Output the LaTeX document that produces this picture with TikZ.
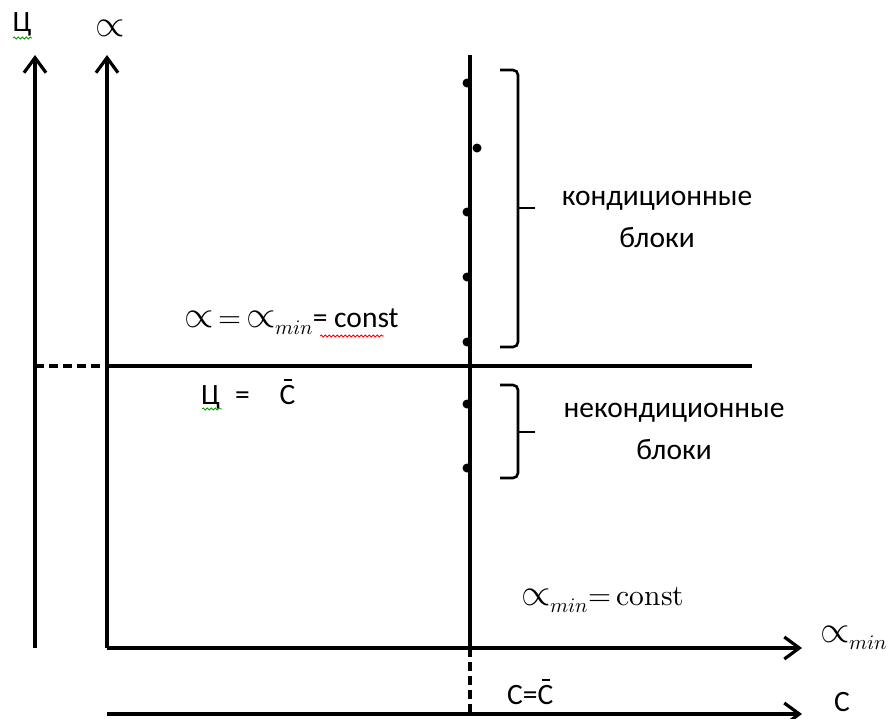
\documentclass[tikz,border=0pt]{standalone}
\usepackage{fontspec}
\usepackage{unicode-math}
\usepackage{graphicx}
\setmainfont{Carlito}
\setmathfont{Latin Modern Math}
\usetikzlibrary{arrows.meta,decorations.pathmorphing}
\newcommand\Cbr{\makebox[0pt][l]{\hspace{0.16em}\rule[0.78em]{0.26em}{0.07em}}C}
\newcommand\prp{\scalebox{1.28}{$\propto$}}
\begin{document}
\begin{tikzpicture}[x=1pt,y=-1pt,
  axis/.style={line width=3.2pt,-{Straight Barb[length=15pt,width=22pt,line width=3.2pt]}},
  thick line/.style={line width=3.2pt},
  dashline/.style={line width=3.2pt,dash pattern=on 9pt off 5pt},
  brace/.style={line width=2.6pt,rounded corners=5pt},
  dotm/.style={circle,fill=black,inner sep=0pt,minimum size=9pt},
  lbl/.style={inner sep=0pt,font=\fontsize{29.5}{42}\selectfont,align=center},
  spell/.style={decorate,decoration={snake,amplitude=1pt,segment length=4pt},line width=0.8pt}]
\useasboundingbox (0,0) rectangle (888,718);
% coordinates
\coordinate (cb) at (35,648); \coordinate (ct) at (35,55);
\coordinate (ab) at (107,648); \coordinate (at) at (107,55);
\coordinate (ae) at (802,648);
\coordinate (cs) at (107,714); \coordinate (ce) at (802,714);
\coordinate (vt) at (470,55); \coordinate (vm) at (470,648); \coordinate (vb) at (470,714);
\coordinate (hl) at (35,366); \coordinate (hm) at (107,366); \coordinate (hr) at (752,366);
% axes
\draw[axis] (cb) -- (ct);
\draw[axis] (ab) -- (at);
\draw[axis] (ab) -- (ae);
\draw[axis] (cs) -- (ce);
\draw[thick line] (vt) -- (vm);
\draw[dashline] (vm) -- (vb);
\draw[dashline] (hl) -- (hm);
\draw[thick line] (hm) -- (hr);
% dots
\node[dotm] (d1) at (467,83) {};
\node[dotm] (d2) at (477,148) {};
\node[dotm] (d3) at (467,212) {};
\node[dotm] (d4) at (467,277) {};
\node[dotm] (d5) at (467,342) {};
\node[dotm] (d6) at (467,404) {};
\node[dotm] (d7) at (467,468) {};
% braces
\draw[brace] (500,70) -- (518,70) -- (518,347) -- (500,347);
\draw[line width=2.6pt] (518,208) -- (535,208);
\draw[brace] (500,385) -- (518,385) -- (518,478) -- (500,478);
\draw[line width=2.6pt] (518,432) -- (535,432);
% labels
\node[lbl] (kb) at (657,219) {кондиционные\\блоки};
\node[lbl] (nb) at (674,431) {некондиционные\\блоки};
\node[lbl] (lc) at (22,24) {Ц};
\node[lbl] (la) at (110,28) {\prp};
\node[lbl,anchor=west] (eq1) at (184,322) {\prp$\,=\,$\prp$_{min}$\hspace{-1pt}= const};
\node[lbl,anchor=west] (eq2) at (201,394) {Ц\hspace{15pt}=\hspace{30pt}\Cbr};
\node[lbl,anchor=west] (eq3) at (521,600) {\prp$_{min}{=}\,\symup{const}$};
\node[lbl,anchor=west] (lam) at (820,638) {\prp$_{min}$};
\node[lbl,anchor=west] (eq4) at (507,692) {C=\Cbr};
\node[lbl,anchor=west] (lcc) at (834,702) {C};
% spell-check marks
\draw[spell,green!60!black] (13,38) -- (32,38);
\draw[spell,green!60!black] (202,409) -- (222,409);
\draw[spell,red] (320,336) -- (384,336);
\end{tikzpicture}
\end{document}
